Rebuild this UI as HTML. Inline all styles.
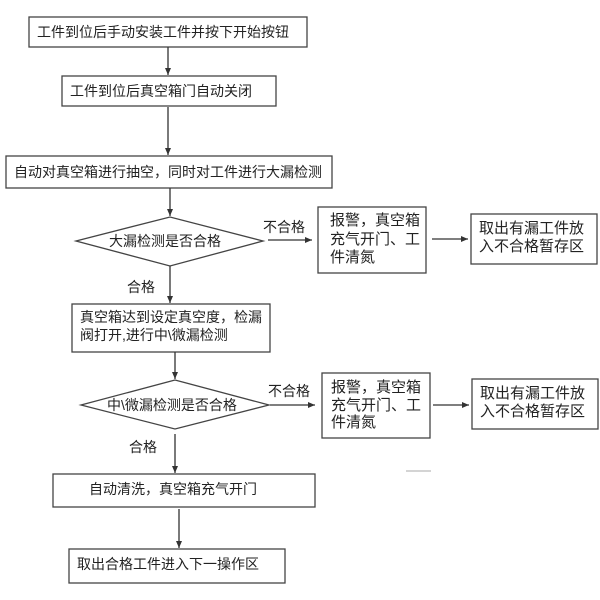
<!DOCTYPE html>
<html><head><meta charset="utf-8"><style>
body{margin:0;background:#fff}
svg{display:block}
text{font-family:"Liberation Sans","Noto Sans CJK SC",sans-serif;fill:#222}
</style></head><body>
<svg width="600" height="600" viewBox="0 0 600 600" xmlns="http://www.w3.org/2000/svg">
<defs><marker id="a" markerWidth="8" markerHeight="8" refX="7" refY="4" orient="auto" markerUnits="userSpaceOnUse"><path d="M0,1 L7,4 L0,7 z" fill="#333"/></marker></defs>
<g fill="none" stroke="#444" stroke-width="1.3">
<rect x="29" y="17" width="278" height="30"/>
<rect x="62" y="76" width="214" height="30"/>
<rect x="6" y="156" width="326" height="32"/>
<polygon points="76,241 170,217 263,241 170,266"/>
<rect x="318" y="207" width="108" height="66"/>
<rect x="471" y="214" width="126" height="50"/>
<rect x="72" y="304" width="198" height="48"/>
<polygon points="81,405 175,380 269,405 175,429"/>
<rect x="322" y="373" width="108" height="65"/>
<rect x="472" y="379" width="126" height="50"/>
<rect x="53" y="474" width="262" height="33"/>
<rect x="69" y="549" width="216" height="34"/>
</g>
<g stroke="#333" stroke-width="1.3" marker-end="url(#a)">
<line x1="168" y1="47" x2="168" y2="75"/>
<line x1="168" y1="107" x2="168" y2="155"/>
<line x1="170" y1="188" x2="170" y2="216"/>
<line x1="268" y1="240" x2="312" y2="240"/>
<line x1="432" y1="239" x2="468" y2="239"/>
<line x1="170" y1="266" x2="170" y2="303"/>
<line x1="175" y1="352" x2="175" y2="379"/>
<line x1="270" y1="405" x2="315" y2="405"/>
<line x1="433" y1="405" x2="469" y2="405"/>
<line x1="175" y1="434" x2="175" y2="473"/>
<line x1="179" y1="509" x2="179" y2="548"/>
</g>
<line x1="406" y1="471" x2="431" y2="471" stroke="#bbb" stroke-width="1.2"/>
<g font-size="14">
<text x="37" y="37">工件到位后手动安装工件并按下开始按钮</text>
<text x="70" y="96">工件到位后真空箱门自动关闭</text>
<text x="14" y="177">自动对真空箱进行抽空，同时对工件进行大漏检测</text>
<text x="109" y="246">大漏检测是否合格</text>
<text x="263" y="232">不合格</text>
<text x="127" y="292">合格</text>
<text x="80" y="322">真空箱达到设定真空度，检漏</text>
<text x="80" y="340">阀打开,进行中\微漏检测</text>
<text x="107" y="410">中\微漏检测是否合格</text>
<text x="268" y="396">不合格</text>
<text x="129" y="452">合格</text>
<text x="89" y="494">自动清洗，真空箱充气开门</text>
<text x="77" y="569">取出合格工件进入下一操作区</text>
</g>
<g font-size="15">
<text x="330" y="225">报警，真空箱</text>
<text x="330" y="244">充气开门、工</text>
<text x="330" y="262">件清氮</text>
<text x="479" y="233">取出有漏工件放</text>
<text x="479" y="251">入不合格暂存区</text>
<text x="331" y="392">报警，真空箱</text>
<text x="331" y="410">充气开门、工</text>
<text x="331" y="427">件清氮</text>
<text x="480" y="398">取出有漏工件放</text>
<text x="480" y="416">入不合格暂存区</text>
</g>
</svg>
</body></html>
